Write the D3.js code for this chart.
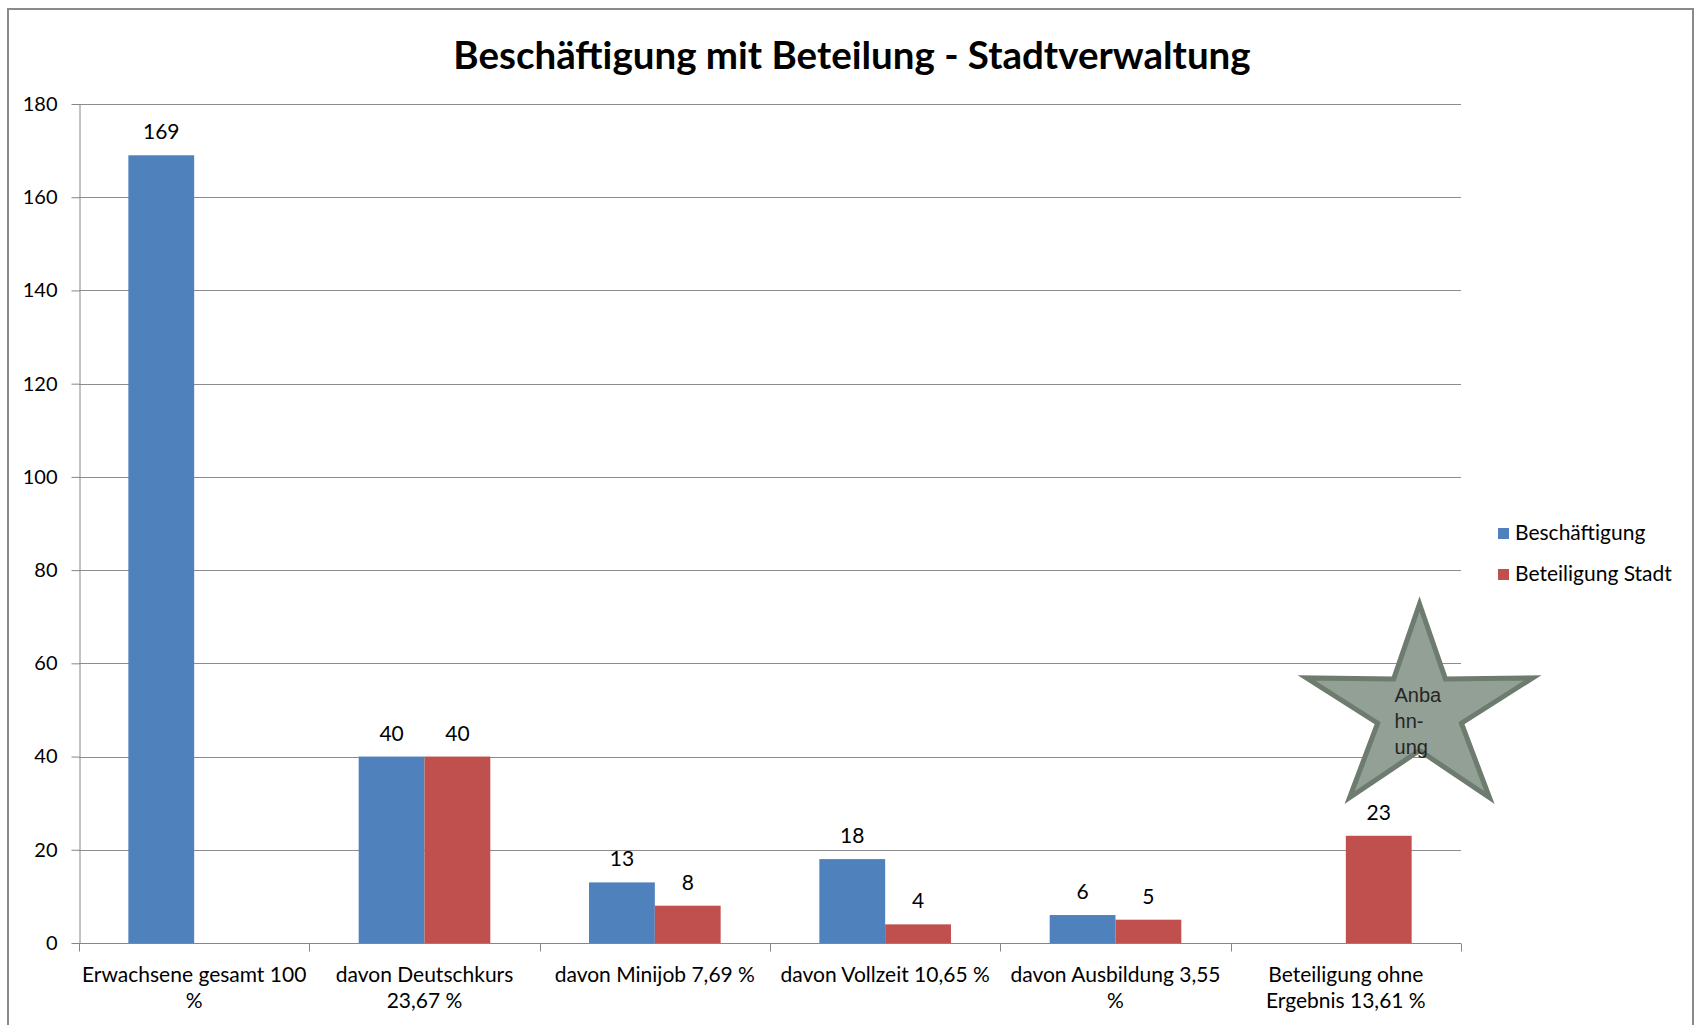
<!DOCTYPE html>
<html>
<head>
<meta charset="utf-8">
<script src="https://cdn.jsdelivr.net/npm/d3@7"></script>
<style>
  body { margin: 0; background: #fff; }
  text { font-family: Lato, "Liberation Sans", sans-serif; fill: #000; }
  .axis path, .axis line { stroke: #868686; }
  .grid line { stroke: #8c8c8c; }
</style>
</head>
<body>
<div id="chart"></div>
<script>
// chart data
var categories = [
  "Erwachsene gesamt 100\n%",
  "davon Deutschkurs\n23,67 %",
  "davon Minijob 7,69 %",
  "davon Vollzeit 10,65 %",
  "davon Ausbildung 3,55\n%",
  "Beteiligung ohne\nErgebnis 13,61 %"
];
var seriesNames = ["Beschäftigung", "Beteiligung Stadt"];
var beschaeftigung = [169, 40, 13, 18, 6, null];
var beteiligungStadt = [null, 40, 8, 4, 5, 23];
var yTicks = [0, 20, 40, 60, 80, 100, 120, 140, 160, 180];
var starLines = ["Anba", "hn-", "ung"];

const
  W = 1700, H = 1025,
  LEFT = 79, RIGHT = 1461, TOP = 104, BOTTOM = 943,
  colors = ["#4F81BD", "#C0504D"];

var svg = d3.select("#chart").append("svg")
  .attr("width", W).attr("height", H);

// outer frame of the chart area
svg.append("rect")
  .attr("x", 8).attr("y", 9)
  .attr("width", 1685).attr("height", 1030)
  .attr("fill", "none")
  .attr("stroke", "#8a8a8a")
  .attr("stroke-width", 2);

svg.append("text")
  .attr("x", 852).attr("y", 69)
  .attr("text-anchor", "middle")
  .style("font-size", "38.5px")
  .style("font-weight", "bold")
  .text("Beschäftigung mit Beteilung - Stadtverwaltung");

var y = d3.scaleLinear().domain([0, 180]).range([BOTTOM, TOP]);
var x0 = d3.scaleBand().domain(categories).range([LEFT, RIGHT]).padding(0);
var x1 = d3.scaleBand().domain(seriesNames).range([0, x0.bandwidth()])
  .paddingInner(0).paddingOuter(0.75);

// gridlines
svg.append("g").attr("class", "grid")
  .selectAll("line")
  .data(yTicks.filter(d => d > 0))
  .enter().append("line")
  .attr("x1", LEFT).attr("x2", RIGHT)
  .attr("y1", d => Math.round(y(d)) + .5)
  .attr("y2", d => Math.round(y(d)) + .5);

var yAxis = svg.append("g").attr("class", "axis")
  .attr("transform", "translate(" + (LEFT + .5) + ",0)")
  .call(d3.axisLeft(y).tickValues(yTicks).tickSizeInner(8).tickSizeOuter(0).tickPadding(14));
yAxis.selectAll("text").style("font-size", "20px").attr("fill", "#000");

// bars
var series = [beschaeftigung, beteiligungStadt];
var rows = [];
categories.forEach(function(c, i) {
  series.forEach(function(s, j) {
    if (s[i] != null) rows.push({cat: c, name: seriesNames[j], value: s[i], k: j});
  });
});

svg.append("g").selectAll("rect")
  .data(rows)
  .enter().append("rect")
  .attr("x", d => x0(d.cat) + x1(d.name))
  .attr("y", d => y(d.value))
  .attr("width", x1.bandwidth())
  .attr("height", d => y(0) - y(d.value))
  .attr("fill", d => colors[d.k]);

svg.append("g").selectAll("text")
  .data(rows)
  .enter().append("text")
  .attr("x", d => x0(d.cat) + x1(d.name) + x1.bandwidth() / 2)
  .attr("y", d => y(d.value) - 16)
  .attr("text-anchor", "middle")
  .style("font-size", "21px")
  .text(d => d.value);

// x axis
var xAxis = svg.append("g").attr("class", "axis")
  .attr("transform", "translate(0," + (BOTTOM + .5) + ")");
xAxis.append("line")
  .attr("x1", LEFT).attr("x2", RIGHT);
xAxis.selectAll(".tk")
  .data(categories.map(c => x0(c)).concat([RIGHT]))
  .enter().append("line")
  .attr("class", "tk")
  .attr("x1", d => Math.round(d) + .5).attr("x2", d => Math.round(d) + .5)
  .attr("y1", 0).attr("y2", 8);

var lbl = xAxis.selectAll(".lbl")
  .data(categories)
  .enter().append("text")
  .attr("class", "lbl")
  .attr("text-anchor", "middle")
  .style("font-size", "21px");
lbl.selectAll("tspan")
  .data(d => d.split("\n").map(t => ({t: t, c: d})))
  .enter().append("tspan")
  .attr("x", d => x0(d.c) + x0.bandwidth() / 2)
  .attr("y", (d, i) => 38 + i * 26)
  .text(d => d.t);

// legend
var legend = svg.selectAll(".legend")
  .data(seriesNames)
  .enter().append("g")
  .attr("class", "legend")
  .attr("transform", (d, i) => "translate(1498," + (528 + i * 41) + ")");
legend.append("rect")
  .attr("width", 11).attr("height", 11)
  .attr("fill", (d, i) => colors[i]);
legend.append("text")
  .attr("x", 17).attr("y", 12)
  .style("font-size", "21px")
  .text(d => d);

// star annotation
var last = categories[categories.length - 1];
var cx = x0(last) + x0.bandwidth() * 0.82, cy = y(50) + 1;
var rx = 119, ry = 107, inner = 0.37;
var pts = d3.range(10).map(function(i) {
  var a = i * Math.PI / 5, f = i % 2 ? inner : 1;
  return [cx + Math.sin(a) * rx * f, cy - Math.cos(a) * ry * f];
});
svg.append("polygon")
  .attr("points", pts.map(p => p.join(",")).join(" "))
  .attr("fill", "#92A095")
  .attr("stroke", "#6E7B6F")
  .attr("stroke-width", 5)
  .attr("stroke-linejoin", "miter");

svg.append("g").selectAll("text")
  .data(starLines)
  .enter().append("text")
  .attr("x", cx - 25)
  .attr("y", (d, i) => cy - 9 + i * 26)
  .style("font-family", "'Liberation Sans', Arial, sans-serif")
  .style("font-size", "20px")
  .style("fill", "#262626")
  .text(d => d);
</script>
</body>
</html>
